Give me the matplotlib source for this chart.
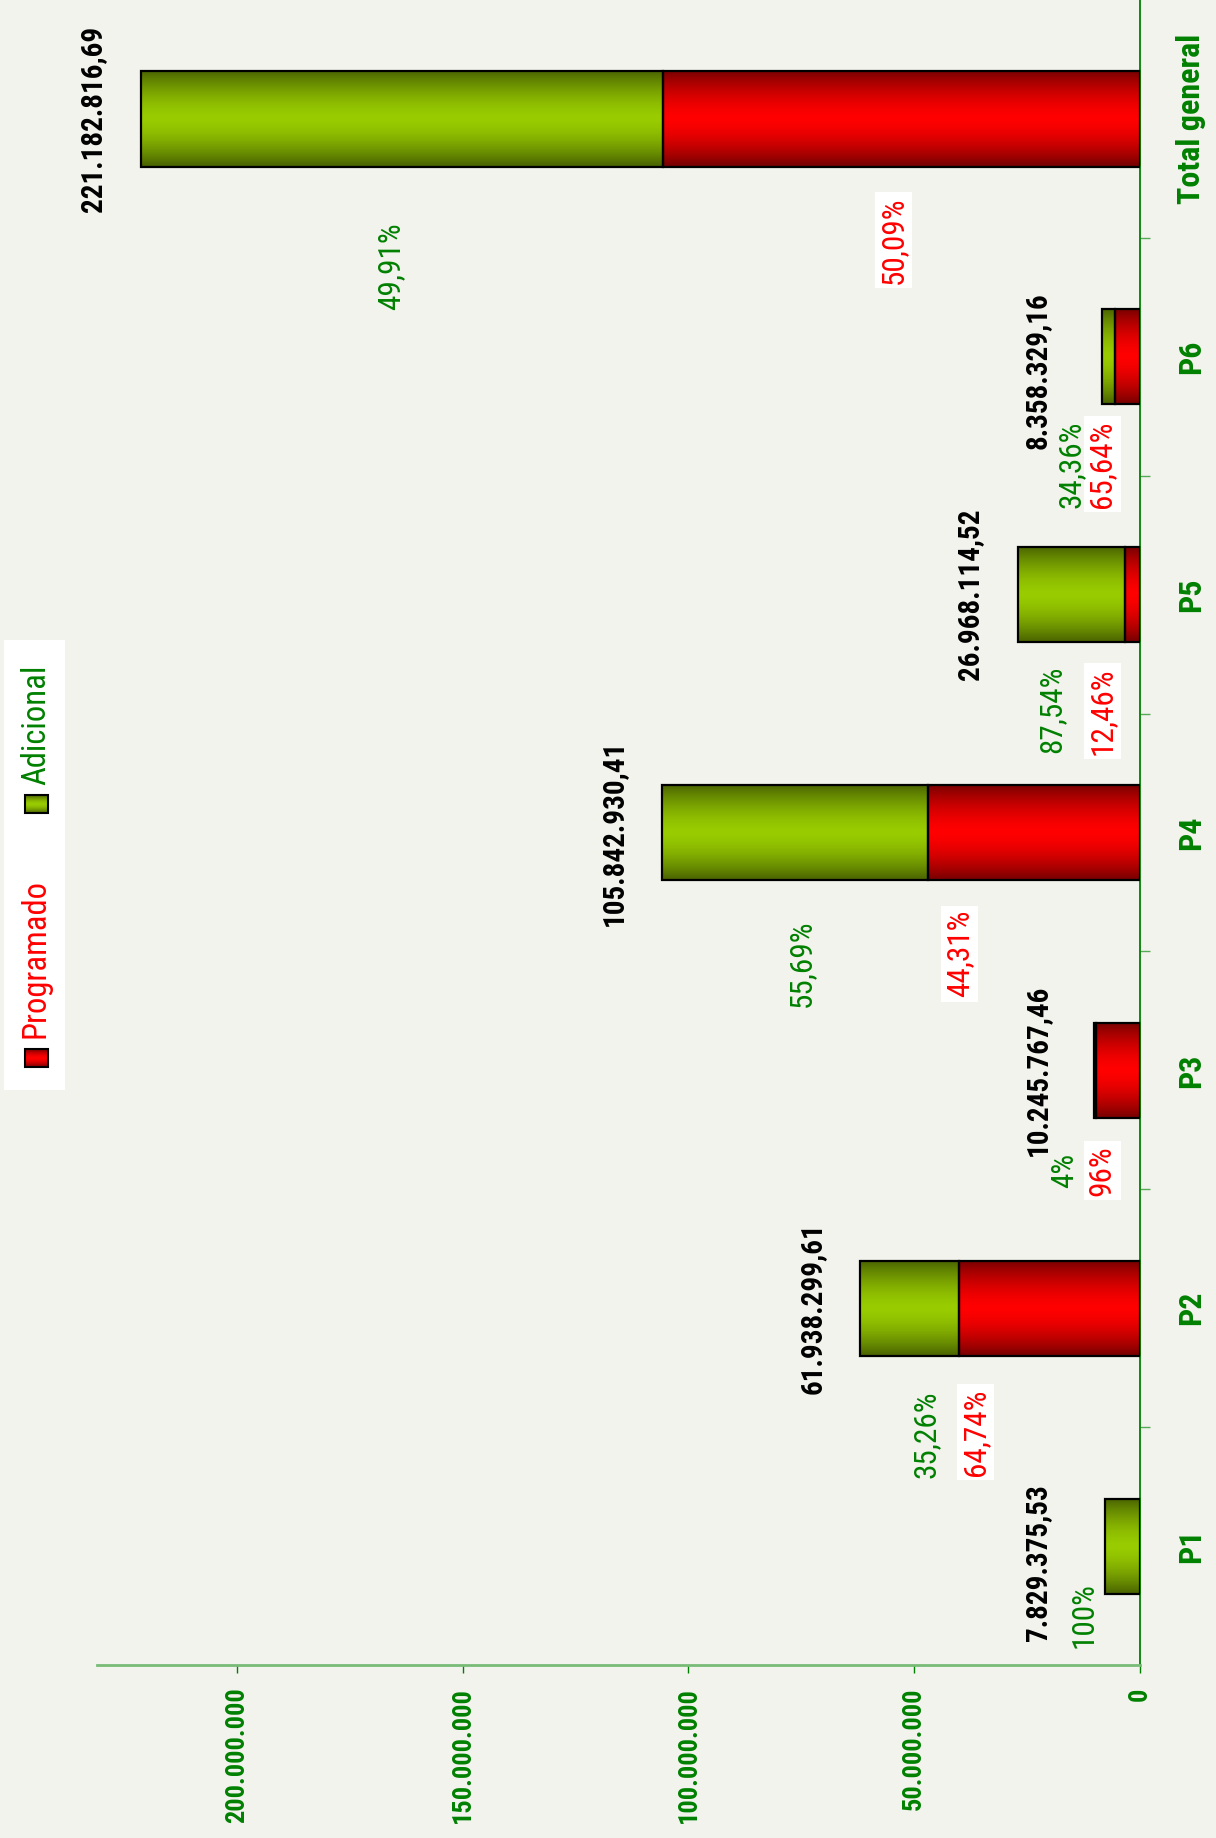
import numpy as np
import matplotlib.pyplot as plt
from matplotlib.patches import Rectangle
from matplotlib.ticker import FuncFormatter
import matplotlib.transforms as mtransforms

categories = ["P1", "P2", "P3", "P4", "P5", "P6", "Total general"]
totals = [7829375.53, 61938299.61, 10245767.46, 105842930.41,
          26968114.52, 8358329.16, 221182816.69]
pct_programado = [0.0, 64.74, 96.0, 44.31, 12.46, 65.64, 50.09]
pct_adicional = [100.0, 35.26, 4.0, 55.69, 87.54, 34.36, 49.91]
value_ticks = [0, 50e6, 100e6, 150e6, 200e6]

# label placement (value axis units, category offsets)
prog_lbl_x = [None, 36.5e6, 8.4e6, 40e6, 8.4e6, 8.4e6, 54.6e6]
adic_lbl_x = [12.4e6, 47.3e6, 16.8e6, 75e6, 19.5e6, 15.3e6, 166e6]
prog_lbl_dy = [0, 0.52, 0.42, 0.51, 0.49, 0.45, 0.51]
adic_lbl_dy = [0.29, 0.53, 0.42, 0.55, 0.48, 0.45, 0.62]
total_lbl_dy = [-0.07, 0, 0, 0, 0, -0.06, 0]

BG = "#F3F3EE"
GREEN_TXT = "#008000"
RED_TXT = "#FF0000"
RED_EDGE, RED_MID = np.array([0.47, 0.0, 0.0]), np.array([1.0, 0.0, 0.0])
GRN_EDGE, GRN_MID = np.array([0.29, 0.39, 0.0]), np.array([0.60, 0.80, 0.0])

plt.rcParams['font.family'] = ['Roboto Condensed', 'Liberation Sans Narrow',
                               'IBM Plex Sans Condensed', 'DejaVu Sans']

W, H = 1216, 1838
fig = plt.figure(figsize=(W / 100, H / 100), dpi=100, facecolor=BG)
ax = fig.add_axes([97 / W, 1 - 1665 / H, (1140 - 97) / W, 1665 / H])
ax.set_facecolor(BG)


def gradient_rect(a, x0, x1, y0, y1, c_edge, c_mid, z=2):
    n = 80
    t = np.abs(np.linspace(-1, 1, n)) ** 1.6
    cols = c_mid[None, :] * (1 - t[:, None]) + c_edge[None, :] * t[:, None]
    a.imshow(cols[:, None, :], extent=(x0, x1, y0, y1), aspect='auto',
             origin='lower', interpolation='bilinear', zorder=z)


totals_a = np.array(totals)
prog = totals_a * np.array(pct_programado) / 100
# the "Total general" bar stacks the sum of the periods
prog[-1] = prog[:-1].sum()
adic = totals_a - prog
ypos = np.arange(len(categories))
h = 0.4

for i in range(len(categories)):
    if prog[i] > 0:
        gradient_rect(ax, 0, prog[i], i - h / 2, i + h / 2, RED_EDGE, RED_MID)
        ax.barh(i, prog[i], height=h, color='none', edgecolor='black', lw=1.6, zorder=3)
    if adic[i] > 0:
        gradient_rect(ax, prog[i], totals[i], i - h / 2, i + h / 2, GRN_EDGE, GRN_MID)
        ax.barh(i, adic[i], left=prog[i], height=h, color='none',
                edgecolor='black', lw=1.6, zorder=3)

# total labels
off = mtransforms.offset_copy(ax.transData, fig=fig, x=-34, y=0, units='dots')
for i, t in enumerate(totals):
    s = f"{t:,.2f}".replace(",", "X").replace(".", ",").replace("X", ".")
    ax.text(max(t, 12e6), i + total_lbl_dy[i], s, transform=off, rotation=90,
            ha='right', va='center', fontsize=21, fontweight='bold', color='black', zorder=5)


def pct_str(p):
    if abs(p - round(p)) < 1e-9:
        return f"{int(round(p))}%"
    return f"{p:.2f}%".replace(".", ",")


for i in range(len(categories)):
    if prog_lbl_x[i] is not None:
        ax.text(prog_lbl_x[i], i - prog_lbl_dy[i], pct_str(pct_programado[i]),
                rotation=90, ha='center', va='center', fontsize=22.5, color=RED_TXT,
                bbox=dict(facecolor='white', edgecolor='none', pad=3), zorder=5)
    ax.text(adic_lbl_x[i], i - adic_lbl_dy[i], pct_str(pct_adicional[i]),
            rotation=90, ha='center', va='center', fontsize=22.5, color=GREEN_TXT, zorder=6)

ax.set_xlim(231e6, 0)
ax.set_ylim(-0.5, len(categories) - 0.5)

ax.set_xticks(value_ticks)
ax.xaxis.set_major_formatter(FuncFormatter(lambda v, _: f"{v:,.0f}".replace(",", ".")))
ax.tick_params(axis='x', direction='out', length=6, width=1, color=GREEN_TXT,
               labelcolor=GREEN_TXT, labelsize=19, pad=10)
for lb in ax.get_xticklabels():
    lb.set_rotation(90)
    lb.set_fontweight('bold')
    lb.set_va('top')
    lb.set_ha('center')

ax.yaxis.tick_right()
ax.set_yticks(ypos)
ax.set_yticklabels(categories)
ax.set_yticks(np.arange(0.5, len(categories) - 1, 1), minor=True)
ax.tick_params(axis='y', which='major', length=0, pad=26, labelcolor=GREEN_TXT, labelsize=23)
ax.tick_params(axis='y', which='minor', direction='out', length=7, width=1, color='#55aa55')
for lb in ax.get_yticklabels():
    lb.set_rotation(90)
    lb.set_fontweight('bold')
    lb.set_va('center')
    lb.set_ha('left')

for s in ['top', 'left']:
    ax.spines[s].set_visible(False)
ax.spines['right'].set_color(GREEN_TXT)
ax.spines['right'].set_linewidth(1.3)
ax.spines['bottom'].set_color('#77bb77')
ax.spines['bottom'].set_linewidth(2)

# legend (drawn in figure pixel coordinates, rotated like the chart)
lg = fig.add_axes([0, 0, 1, 1], zorder=10)
lg.set_xlim(0, W)
lg.set_ylim(H, 0)
lg.axis('off')
lg.add_patch(Rectangle((4, 640), 61, 450, facecolor='white', edgecolor='none'))
items = [("Adicional", 813, 785, GRN_EDGE, GRN_MID, GREEN_TXT),
         ("Programado", 1067, 1038, RED_EDGE, RED_MID, RED_TXT)]
for name, mk_bottom, txt_bottom, ce, cm, tc in items:
    gradient_rect(lg, 25, 48, mk_bottom, mk_bottom - 18, ce, cm, z=11)
    lg.add_patch(Rectangle((25, mk_bottom - 18), 23, 18, facecolor='none',
                           edgecolor='black', lw=1.5, zorder=12))
    lg.text(36, txt_bottom, name, rotation=90, ha='center', va='bottom',
            fontsize=23.5, color=tc, zorder=12)
lg.set_xlim(0, W)
lg.set_ylim(H, 0)

fig.savefig("out.png", dpi=100, facecolor=BG)
